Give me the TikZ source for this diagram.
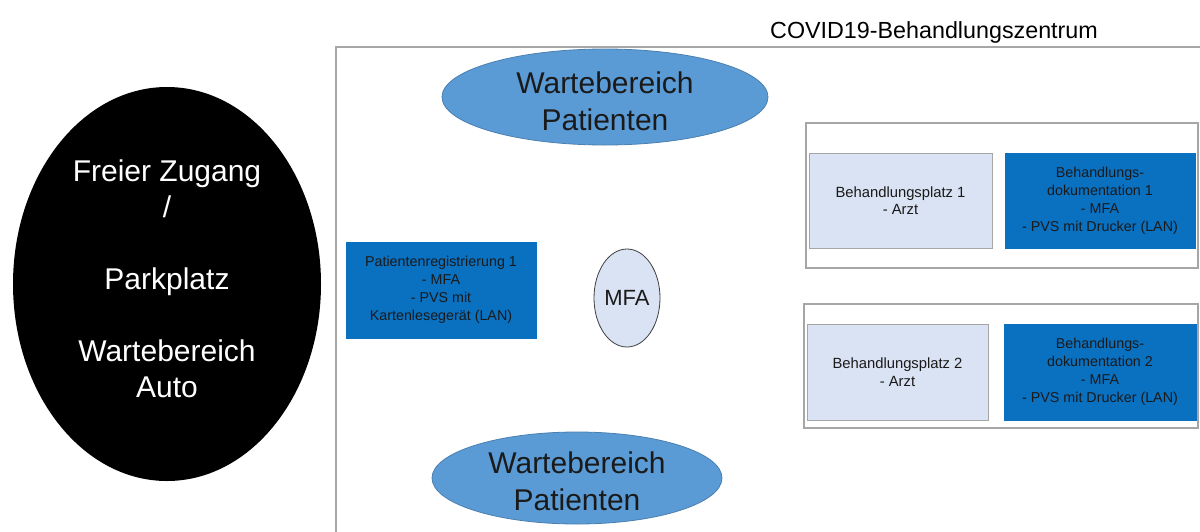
\documentclass[tikz,border=0pt]{standalone}
\usepackage{fontspec}
\setmainfont{Liberation Sans}
\usetikzlibrary{shapes.geometric}

\definecolor{blobblue}{HTML}{5B9BD5}
\definecolor{blobedge}{HTML}{4A7FB0}
\definecolor{deepblue}{HTML}{0A70C0}
\definecolor{paleblue}{HTML}{DAE3F3}
\definecolor{framegray}{HTML}{A6A6A6}
\definecolor{inktext}{HTML}{1A1A1A}

\tikzset{
  fs/.style 2 args={font=\fontsize{#1}{#2}\selectfont},
  lightblob/.style={ellipse, draw=blobedge, line width=0.8pt, fill=blobblue, inner sep=0pt},
  blobtext/.style={inner sep=0pt, align=center, text=inktext, fs={30}{37}},
  darkbox/.style={rectangle, fill=deepblue, draw=deepblue, inner sep=0pt,
    align=center, text=inktext, fs={14.3}{18}},
  palebox/.style={rectangle, fill=paleblue, draw=framegray, line width=0.8pt,
    inner sep=0pt, align=center, text=inktext, fs={14.8}{17.5}},
  groupframe/.style={rectangle, draw=framegray, line width=1.3pt, inner sep=0pt},
}

\begin{document}
\begin{tikzpicture}[x=1pt, y=-1pt]
\useasboundingbox (0,0) rectangle (1200,531);
\fill[white] (0,0) rectangle (1200,531);

% outside area: parking and access
\node[ellipse, fill=black, inner sep=0pt, minimum width=308pt, minimum height=394pt] (park) at (167,284) {};
\node[inner sep=0pt, text=white, align=center, fs={30}{36}] (parkText) at ([yshift=5pt]park.center)
  {Freier Zugang\\/\\[36pt]Parkplatz\\[36pt]Wartebereich\\Auto};

% treatment centre outline
\node[anchor=base west, fs={23.3}{28}, text=black, inner sep=0pt] (title) at (770,38)
  {COVID19-Behandlungszentrum};
\coordinate (frameNE) at (1215,47);
\coordinate (frameNW) at (336,47);
\coordinate (frameSW) at (336,545);
\draw[framegray, line width=1.5pt] (frameNE) -- (frameNW) -- (frameSW);

% waiting areas
\node[lightblob, minimum width=326pt, minimum height=96pt] (waitTop) at (605,97) {};
\node[blobtext] (waitTopText) at ([yshift=-4pt]waitTop.center) {Wartebereich\\Patienten};
\node[lightblob, minimum width=290pt, minimum height=92pt] (waitBot) at (577,478) {};
\node[blobtext] (waitBotText) at ([yshift=-3pt]waitBot.center) {Wartebereich\\Patienten};

% registration
\node[darkbox, minimum width=190pt, minimum height=96pt] (reg) at (441,290)
  {Patientenregistrierung 1\\- MFA\\- PVS mit\\Kartenlesegerät (LAN)};
\node[ellipse, fill=paleblue, draw=black!75, line width=0.8pt, inner sep=0pt,
  minimum width=66pt, minimum height=98pt, text=inktext, fs={22}{26}] (mfa) at (627,298) {MFA};

% treatment place 1
\node[groupframe, minimum width=392pt, minimum height=145pt] (group1) at (1002,195.5) {};
\node[palebox, minimum width=183pt, minimum height=95pt] (place1) at (900.5,200.5)
  {Behandlungsplatz 1\\- Arzt};
\node[darkbox, minimum width=190pt, minimum height=95pt] (doc1) at (1100,200.5)
  {Behandlungs-\\dokumentation 1\\- MFA\\- PVS mit Drucker (LAN)};

% treatment place 2
\node[groupframe, minimum width=394pt, minimum height=124pt] (group2) at (1001,366) {};
\node[palebox, minimum width=181pt, minimum height=96pt] (place2) at (897.5,372)
  {Behandlungsplatz 2\\- Arzt};
\node[darkbox, minimum width=192pt, minimum height=96pt] (doc2) at (1100,372)
  {Behandlungs-\\dokumentation 2\\- MFA\\- PVS mit Drucker (LAN)};
\end{tikzpicture}
\end{document}
